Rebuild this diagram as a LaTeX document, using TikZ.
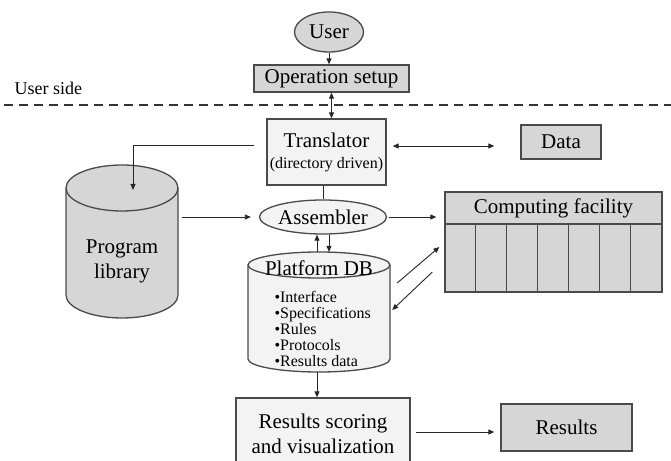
\documentclass[tikz,border=0pt]{standalone}
\usepackage{fontspec}
\setmainfont{Liberation Serif}
\usetikzlibrary{arrows.meta,shapes.geometric}
\definecolor{boxdark}{HTML}{D6D6D6}
\definecolor{boxlight}{HTML}{F3F3F3}
\definecolor{edge}{HTML}{4A4A4A}
\begin{document}
\begin{tikzpicture}[x=1pt,y=1pt,
  box/.style={draw=edge,line width=1.3pt,inner sep=0pt},
  dark/.style={box,fill=boxdark},
  light/.style={box,fill=boxlight},
  big/.style={font=\fontsize{21}{25}\selectfont},
  conn/.style={draw=black!85,line width=0.9pt},
  tip/.style={-{Triangle[length=6pt,width=5pt]}},
  tips/.style={{Triangle[length=6pt,width=5pt]}-{Triangle[length=6pt,width=5pt]}},
  border/.style={draw=edge,line width=1.3pt}]
\useasboundingbox (0,0) rectangle (671,460);

% user side
\node[dark,ellipse,minimum width=69,minimum height=40,big] (user) at (329,428) {User};
\node[dark,minimum width=155,minimum height=27,big] (op) at (331.5,381.5) {Operation setup};
\draw[conn,tip] (user.south) -- (user.south |- op.north);
\node[anchor=west,font=\fontsize{18}{20}\selectfont] (side) at (11,372) {User side};
\coordinate (dl) at (4,355);
\coordinate (dr) at (671,355);
\draw[black!80,line width=1.6pt,dash pattern=on 9pt off 6pt] (dl) -- (dr);

% translator and data
\node[light,minimum width=119,minimum height=66,align=center,font=\fontsize{21}{21}\selectfont] (tr) at (326.5,308)
  {Translator\\{\fontsize{16}{18}\selectfont(directory driven)}};
\draw[conn,tips] (op.south) -- (op.south |- tr.north);
\node[dark,minimum width=80,minimum height=34,big] (data) at (561,318) {Data};
\draw[conn,tips,shorten <=6pt,shorten >=26pt] ([yshift=6pt]tr.east) -- ([yshift=-4pt]data.west);

% program library cylinder
\node[minimum width=112,minimum height=153,inner sep=0pt] (lib) at (122,218.5) {};
\path[fill=boxdark,border] (66,272) -- (66,165)
  arc[start angle=180,end angle=360,x radius=56,y radius=23] -- (178,272)
  arc[start angle=0,end angle=180,x radius=56,y radius=23] -- cycle;
\draw[border] (66,272) arc[start angle=180,end angle=360,x radius=56,y radius=23];
\node[big,align=center] (libtext) at (122,199) {Program\\library};
\coordinate (libtop) at (133,270);
\draw[conn,tip] ([shift={(-12pt,7pt)}]tr.west) -| (libtop);

% assembler
\node[light,ellipse,minimum width=124,minimum height=34,big,inner sep=0pt] (asm) at (323,243) {Assembler};
\draw[conn] (asm.north |- tr.south) -- (asm.north);
\draw[conn,tip,shorten <=4pt,shorten >=8pt] (lib.east |- asm.west) -- (asm.west);

% computing facility
\node[dark,minimum width=217,minimum height=100] (comp) at (553.5,218) {};
\node[big] (comptitle) at (553.5,252) {Computing facility};
\draw[border] (comp.west |- 0,236) -- (comp.east |- 0,236);
\foreach \i in {1,...,6}
  \draw[border] ([xshift=\i*31pt]comp.south west) -- ([xshift=\i*31pt,yshift=68pt]comp.south west);
\draw[conn,tip,shorten <=2pt,shorten >=8pt] (asm.east) -- (asm.east -| comp.west);

% platform database cylinder
\node[minimum width=142,minimum height=120,inner sep=0pt] (db) at (319,148) {};
\path[fill=boxlight,border] (248,195) -- (248,101)
  arc[start angle=180,end angle=360,x radius=71,y radius=13] -- (390,195)
  arc[start angle=0,end angle=180,x radius=71,y radius=13] -- cycle;
\draw[border] (248,195) arc[start angle=180,end angle=360,x radius=71,y radius=13];
\node[big] (dbtitle) at (319,192) {Platform DB};
\node[anchor=west,align=left,font=\fontsize{16}{15.8}\selectfont] (dblist) at (271,131)
  {•Interface\\•Specifications\\•Rules\\•Protocols\\•Results data};

\draw[conn,tip] ([xshift=-2pt]db.north) -- ([xshift=-2pt]db.north |- asm.south);
\draw[conn,tip] ([xshift=10pt]db.north |- asm.south) -- ([xshift=10pt]db.north);
\draw[conn,tip] ([shift={(7pt,29pt)}]db.east) -- ([shift={(-5pt,-5pt)}]comp.west);
\draw[conn,tip] ([shift={(-12pt,-30pt)}]comp.west) -- ([shift={(2pt,2pt)}]db.east);

% results
\node[light,minimum width=174,minimum height=72,align=center,font=\fontsize{21}{25}\selectfont] (sc) at (323,26)
  {Results scoring\\and visualization};
\draw[conn,tip] ([xshift=-2pt]db.south) -- ([xshift=-2pt]db.south |- sc.north);
\node[dark,minimum width=131,minimum height=47,big] (res) at (566.5,32.5) {Results};
\draw[conn,tip,shorten <=5pt,shorten >=6pt] ([yshift=2pt]sc.east) -- ([yshift=-4.5pt]res.west);
\end{tikzpicture}
\end{document}
